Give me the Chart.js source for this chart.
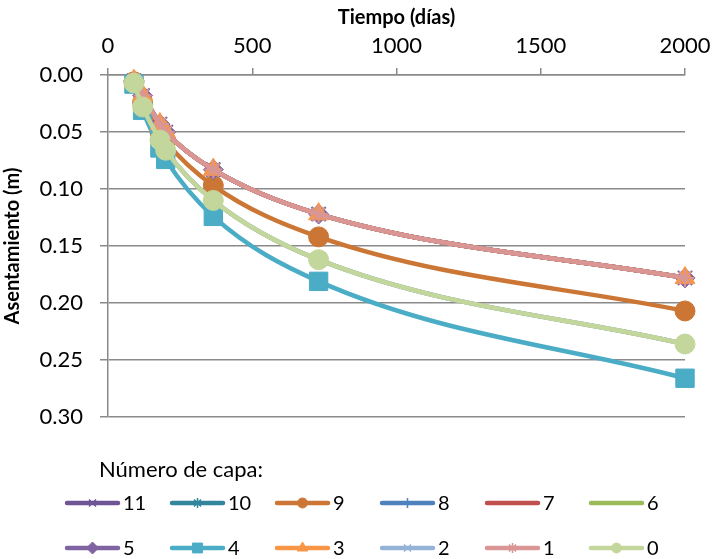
<!DOCTYPE html>
<html>
<head>
<meta charset="utf-8">
<script src="https://cdn.jsdelivr.net/npm/chart.js@4/dist/chart.umd.min.js"></script>
<style>
  html, body { margin: 0; padding: 0; background: #fff; }
  #wrap { width: 712px; height: 559px; }
</style>
</head>
<body>
<div id="wrap"><canvas id="chart"></canvas></div>
<script>
// Data
const dias = [90, 120, 180, 200, 365, 730, 2000];
const curvaA = [0.005, 0.018, 0.043, 0.050, 0.083, 0.122, 0.178];  // capas 1,3,5,7,8,10,11
const curvaB = [0.006, 0.024, 0.050, 0.058, 0.097, 0.142, 0.207];  // capa 9
const curvaC = [0.007, 0.028, 0.057, 0.066, 0.110, 0.162, 0.236];  // capas 0,2,6
const curvaD = [0.008, 0.031, 0.064, 0.074, 0.124, 0.181, 0.266];  // capa 4
const capas = ['0', '1', '2', '3', '4', '5', '6', '7', '8', '9', '10', '11'];
const curvaPorCapa = [curvaC, curvaA, curvaC, curvaA, curvaD, curvaA, curvaC, curvaA, curvaA, curvaB, curvaA, curvaA];
const xTicks = [0, 500, 1000, 1500, 2000];
const yTicks = [0, 0.05, 0.10, 0.15, 0.20, 0.25, 0.30];
const legendRows = [['11', '10', '9', '8', '7', '6'], ['5', '4', '3', '2', '1', '0']];

// Styles
const FONT = 'Lato, "Open Sans", sans-serif';
const GRID = '#8a8a8a';
const estilos = {
  '0':  { color: '#C3D69B', marker: 'circle',   r: 10,  lr: 5 },
  '1':  { color: '#D99694', marker: 'star',     r: 9,   lr: 5 },
  '2':  { color: '#95B3D7', marker: 'crossRot', r: 10,  lr: 5 },
  '3':  { color: '#F79646', marker: 'triangle', r: 11.5, lr: 6 },
  '4':  { color: '#4BACC6', marker: 'rect',     r: 13,  lr: 7 },
  '5':  { color: '#8064A2', marker: 'rectRot',  r: 10,  lr: 6 },
  '6':  { color: '#9BBB59', marker: false,      r: 0,   lr: 0 },
  '7':  { color: '#C0504D', marker: false,      r: 0,   lr: 0 },
  '8':  { color: '#4F81BD', marker: 'cross',    r: 9,   lr: 5 },
  '9':  { color: '#CB7634', marker: 'circle',   r: 10,  lr: 5 },
  '10': { color: '#31859C', marker: 'star',     r: 9,   lr: 5 },
  '11': { color: '#6F5596', marker: 'crossRot', r: 10,  lr: 5 }
};
const lineMarkers = ['star', 'crossRot', 'cross'];

// dataset 0 is drawn on top, so capa 0 goes first
const datasets = capas.map((capa, i) => {
  const st = estilos[capa];
  return {
    label: capa,
    data: dias.map((d, j) => ({ x: d, y: curvaPorCapa[i][j] })),
    borderColor: st.color,
    backgroundColor: st.color,
    borderWidth: 4.5,
    pointStyle: st.marker || false,
    pointRadius: st.r,
    pointHoverRadius: st.r,
    pointBorderWidth: lineMarkers.includes(st.marker) ? 2 : 1,
    pointBackgroundColor: st.color,
    pointBorderColor: st.color,
    cubicInterpolationMode: 'monotone',
    fill: false,
    clip: false
  };
});

// Legend drawn below the plot, Excel style (line + marker + label)
const legendPlugin = {
  id: 'capaLegend',
  afterDraw(chart) {
    const ctx = chart.ctx;
    const colX = [65, 170, 275, 380, 485, 589];
    const rowY = [503, 548];
    const lineLen = 55;
    ctx.save();
    ctx.fillStyle = '#000';
    ctx.textBaseline = 'middle';
    ctx.textAlign = 'left';
    ctx.font = '22px ' + FONT;
    ctx.fillText('Número de capa:', 99, 470);

    ctx.font = '20px ' + FONT;
    legendRows.forEach((row, ri) => {
      row.forEach((capa, ci) => {
        const st = estilos[capa];
        const x0 = colX[ci];
        const y = rowY[ri];
        ctx.strokeStyle = st.color;
        ctx.lineWidth = 4.5;
        ctx.lineCap = 'round';
        ctx.beginPath();
        ctx.moveTo(x0 + 2, y);
        ctx.lineTo(x0 + lineLen - 2, y);
        ctx.stroke();
        if (st.marker && Chart.helpers && Chart.helpers.drawPoint) {
          ctx.fillStyle = st.color;
          ctx.lineWidth = lineMarkers.includes(st.marker) ? 1.5 : 1;
          ctx.lineCap = 'butt';
          Chart.helpers.drawPoint(ctx, { pointStyle: st.marker, radius: st.lr, rotation: 0, borderWidth: ctx.lineWidth }, x0 + lineLen / 2, y);
        }
        ctx.fillStyle = '#000';
        ctx.fillText(capa, x0 + lineLen + 3, y + 1);
      });
    });
    ctx.restore();
  }
};

new Chart(document.getElementById('chart'), {
  type: 'line',
  data: { datasets },
  options: {
    responsive: true,
    maintainAspectRatio: false,
    animation: false,
    events: [],
    layout: { padding: { left: 0, top: 0, right: 27, bottom: 142 } },
    plugins: {
      legend: { display: false },
      tooltip: { enabled: false }
    },
    scales: {
      x: {
        type: 'linear',
        position: 'top',
        min: 0,
        max: 2000,
        afterBuildTicks: s => { s.ticks = xTicks.map(v => ({ value: v })); },
        afterFit: s => { s.height = 75; s.paddingLeft = 0; s.paddingRight = 0; },
        ticks: {
          color: '#000',
          font: { family: FONT, size: 22 },
          padding: 9,
          maxRotation: 0,
          autoSkip: false,
          callback: v => String(v)
        },
        grid: { drawOnChartArea: false, drawTicks: true, tickLength: 7, color: GRID, lineWidth: 1.5 },
        border: { display: true, color: GRID, width: 1.5 },
        title: {
          display: true,
          text: 'Tiempo (días)',
          color: '#000',
          font: { family: FONT, size: 20, weight: 'bold' },
          padding: { top: 6, bottom: 0 }
        }
      },
      y: {
        type: 'linear',
        reverse: true,
        min: 0,
        max: 0.30,
        afterBuildTicks: s => { s.ticks = yTicks.map(v => ({ value: v })); },
        afterFit: s => { s.width = 108; s.paddingTop = 0; s.paddingBottom = 0; },
        ticks: {
          color: '#000',
          font: { family: FONT, size: 22 },
          padding: 17,
          callback: v => Number(v).toFixed(2)
        },
        grid: { drawTicks: true, tickLength: 8, color: GRID, lineWidth: 1.5 },
        border: { display: true, color: GRID, width: 1.5 },
        title: {
          display: true,
          text: 'Asentamiento (m)',
          color: '#000',
          font: { family: FONT, size: 20, weight: 'bold' },
          padding: { top: 1, bottom: 0 }
        }
      }
    }
  },
  plugins: [legendPlugin]
});
</script>
</body>
</html>
